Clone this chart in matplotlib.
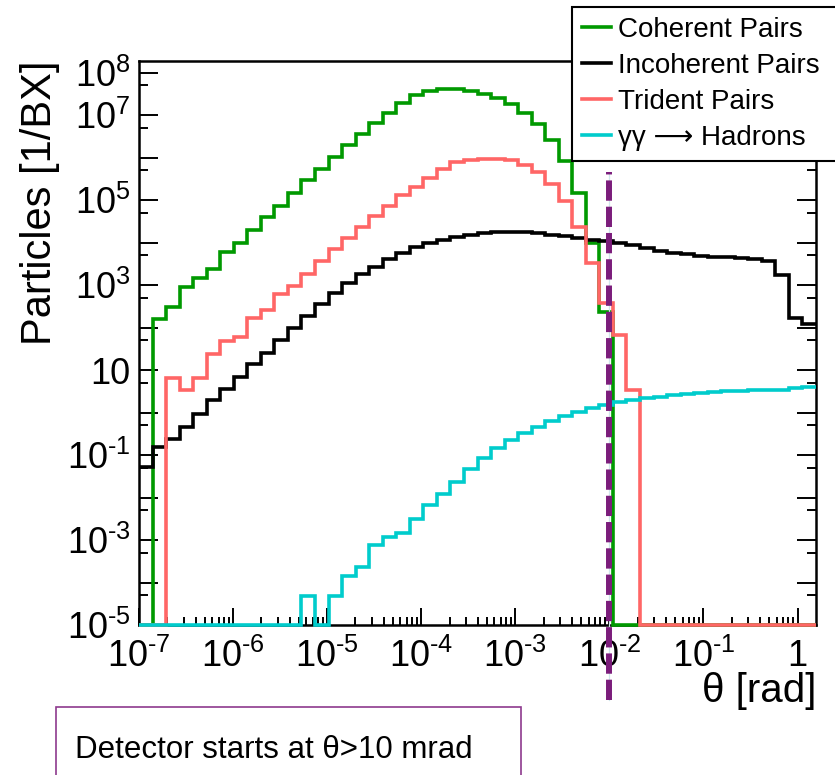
import numpy as np
import matplotlib
matplotlib.use("Agg")
import matplotlib.pyplot as plt
from matplotlib.lines import Line2D
from matplotlib.patches import Rectangle
from matplotlib.ticker import FixedLocator, FixedFormatter, NullFormatter

plt.rcParams['font.family'] = ['Liberation Sans', 'DejaVu Sans']
plt.rcParams['mathtext.fontset'] = 'custom'
plt.rcParams['mathtext.rm'] = 'Liberation Sans'
plt.rcParams['mathtext.it'] = 'Liberation Sans:italic'

# 50 log-spaced bins in theta [rad]
edges = np.logspace(-7, np.log10(np.pi / 2), 51)

# particles per bunch crossing, per bin
coherent = [0, 1.6e2, 3.1e2, 9.1e2, 1.5e3, 2.4e3, 5.9e3, 1.0e4, 2.0e4, 3.9e4,
            7.3e4, 1.5e5, 3.0e5, 5.3e5, 1.04e6, 2.0e6, 3.6e6, 6.4e6, 1.1e7, 1.9e7,
            2.95e7, 3.7e7, 4.1e7, 4.0e7, 3.7e7, 3.1e7, 2.5e7, 1.8e7, 1.13e7, 6.1e6,
            2.6e6, 8.3e5, 1.5e5, 1.0e4, 2.3e2, 0, 0, 0, 0, 0,
            0, 0, 0, 0, 0, 0, 0, 0, 0, 0]
incoherent = [0.053, 0.157, 0.24, 0.46, 0.93, 1.97, 3.6, 7.0, 13.5, 25.5,
              51, 100, 190, 360, 650, 1.1e3, 1.8e3, 2.7e3, 4.0e3, 5.8e3,
              7.7e3, 9.6e3, 1.15e4, 1.37e4, 1.5e4, 1.64e4, 1.74e4, 1.8e4, 1.74e4, 1.64e4,
              1.52e4, 1.4e4, 1.26e4, 1.16e4, 1.07e4, 9.7e3, 8.7e3, 7.4e3, 6.3e3, 5.7e3,
              5.3e3, 4.9e3, 4.6e3, 4.5e3, 4.25e3, 4.0e3, 3.6e3, 1.72e3, 164, 121]
trident = [0, 0, 6.4, 3.4, 6.6, 24, 49, 59, 170, 258,
           600, 960, 1.8e3, 3.7e3, 6.9e3, 1.3e4, 2.35e4, 4.3e4, 7.2e4, 1.31e5,
           2.06e5, 3.35e5, 5.3e5, 7.7e5, 8.7e5, 9.2e5, 9.2e5, 8.6e5, 6.7e5, 4.6e5,
           2.4e5, 9.5e4, 2.35e4, 3.35e3, 3.7e2, 67, 3.4, 0, 0, 0,
           0, 0, 0, 0, 0, 0, 0, 0, 0, 0]
hadrons = [0, 0, 0, 0, 0, 0, 0, 0, 0, 0,
           0, 0, 4.8e-5, 0, 4.8e-5, 1.42e-4, 2.35e-4, 7.6e-4, 1.16e-3, 1.46e-3,
           3.1e-3, 6.7e-3, 0.0124, 0.0228, 0.048, 0.083, 0.143, 0.225, 0.335, 0.46,
           0.63, 0.84, 1.04, 1.26, 1.5, 1.77, 1.97, 2.16, 2.36, 2.58,
           2.77, 2.92, 3.03, 3.15, 3.26, 3.3, 3.38, 3.45, 3.7, 4.05]

labels = ["Coherent Pairs", "Incoherent Pairs", "Trident Pairs", "γγ ⟶ Hadrons"]
colors = ["#009900", "#000000", "#ff6666", "#00cccc"]
series = [coherent, incoherent, trident, hadrons]

detector_start = 1e-2   # rad
ymin, ymax = 1e-5, 1.87e8

fig = plt.figure(figsize=(8.35, 7.75), dpi=100)
ax = fig.add_axes([139 / 835, 150 / 775, 677 / 835, 564 / 775])

for vals, col in zip(series, colors):
    v = np.asarray(vals, dtype=float)
    v = np.where(v > 0, v, ymin)   # empty bins sit on the floor
    ax.stairs(v, edges, color=col, lw=2.6, baseline=None, clip_on=False, zorder=3)

ax.set_xscale('log')
ax.set_yscale('log')
ax.set_xlim(1e-7, np.pi / 2)
ax.set_ylim(ymin, ymax)


def pow10(e):
    if e < 0:
        return r"$10^{\text{-}%d}$" % (-e)
    return r"$10^{%d}$" % e


# ticks
ax.xaxis.set_major_locator(FixedLocator([10.0 ** e for e in range(-7, 1)]))
ax.xaxis.set_major_formatter(FixedFormatter([pow10(e) for e in range(-7, 0)] + ["1"]))
xminor = [m * 10.0 ** e for e in range(-7, 0) for m in range(2, 10)]
ax.xaxis.set_minor_locator(FixedLocator(xminor))
ax.xaxis.set_minor_formatter(NullFormatter())

ydec = [10.0 ** e for e in range(-5, 9)]
ylab = [pow10(-5), "", pow10(-3), "", pow10(-1), "", "10", "",
        pow10(3), "", pow10(5), "", pow10(7), pow10(8)]
ax.yaxis.set_major_locator(FixedLocator(ydec))
ax.yaxis.set_major_formatter(FixedFormatter(ylab))
ax.yaxis.set_minor_locator(FixedLocator([5 * 10.0 ** e for e in range(-5, 8)]))
ax.yaxis.set_minor_formatter(NullFormatter())

ax.tick_params(axis='both', which='both', direction='in', width=1.4, top=False)
ax.tick_params(axis='y', which='major', length=13.5, right=True, labelsize=26, pad=6)
ax.tick_params(axis='y', which='minor', length=6.5, right=True)
ax.tick_params(axis='x', which='major', length=12, labelsize=26, pad=10)
ax.tick_params(axis='x', which='minor', length=6)
for s in ax.spines.values():
    s.set_linewidth(1.8)

ax.set_ylabel("Particles [1/BX]", fontsize=30, loc='top')
ax.yaxis.set_label_coords(-0.117, 1.0)
ax.set_xlabel("θ [rad]", fontsize=29, loc='right')
ax.xaxis.set_label_coords(1.0, -0.083)

# detector acceptance edge
ax.plot([detector_start, detector_start], [-0.133, 0.803], transform=ax.get_xaxis_transform(),
        color='#cfe6ec', lw=0.9, clip_on=False, zorder=5)
ax.plot([detector_start, detector_start], [-0.133, 0.803], transform=ax.get_xaxis_transform(),
        color='#7b1d7b', lw=4.3, ls=(0, (3.4, 1.0)), clip_on=False, zorder=6)

handles = [Line2D([], [], color=c, lw=2.6) for c in colors]
leg = ax.legend(handles, labels, loc='upper left',
                bbox_to_anchor=(572 / 835, 1 - 159 / 775, 270 / 835, 152 / 775),
                bbox_transform=fig.transFigure, mode='expand', fontsize=20,
                handlelength=1.05, handletextpad=0.25, borderpad=0.36, labelspacing=0.36,
                borderaxespad=0, fancybox=False, framealpha=1, edgecolor='black')
leg.get_frame().set_linewidth(1.5)
leg.set_zorder(8)

# note box under the axis
fig.add_artist(Rectangle((56 / 835, -0.05), (521 - 56) / 835, 0.05 + 68 / 775,
                         transform=fig.transFigure, facecolor='none', edgecolor='#8e3a8e', lw=1.2))
fig.text(75 / 835, 17 / 775, "Detector starts at θ>10 mrad", fontsize=22.5, va='baseline')

fig.savefig("out.png", dpi=100)
